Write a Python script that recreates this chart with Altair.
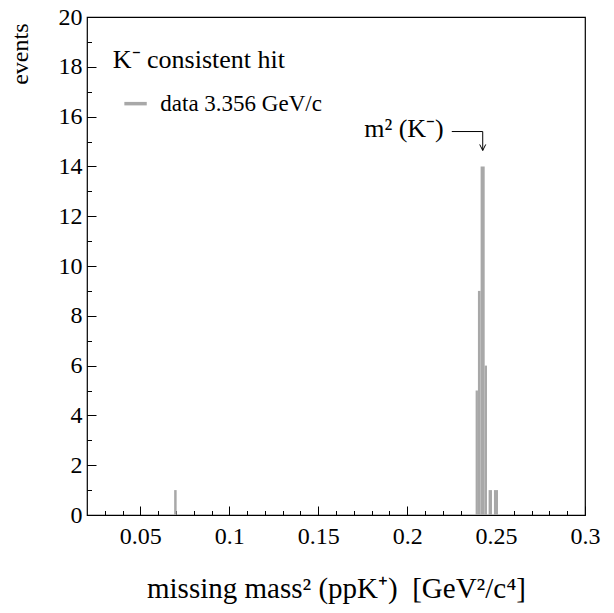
import altair as alt
import pandas as pd

# ---- data ----
bin_lo = [0.0690, 0.2385, 0.2398, 0.2413, 0.2436, 0.2458, 0.2488]
bin_hi = [0.0704, 0.2398, 0.2413, 0.2436, 0.2449, 0.2477, 0.2511]
counts = [1, 5, 9, 14, 6, 1, 1]

x_major = [0.05, 0.1, 0.15, 0.2, 0.25, 0.3]
x_minor = [0.03, 0.04, 0.05, 0.06, 0.07, 0.08, 0.09, 0.10, 0.11, 0.12, 0.13,
           0.14, 0.15, 0.16, 0.17, 0.18, 0.19, 0.20, 0.21, 0.22, 0.23, 0.24,
           0.25, 0.26, 0.27, 0.28, 0.29]
y_major = [0, 2, 4, 6, 8, 10, 12, 14, 16, 18, 20]
y_minor = [0, 1, 2, 3, 4, 5, 6, 7, 8, 9, 10, 11, 12, 13, 14, 15, 16, 17, 18, 19, 20]

x_dom = [0.02, 0.3]
y_dom = [0, 20]

# annotations (data coordinates)
title_txt = ["K\u207b consistent hit"]
title_x = [0.0345]
title_y = [18.28]
leg_x = [0.0410, 0.0536]
leg_y = [16.52, 16.52]
leg_txt = ["data 3.356 GeV/c"]
leg_tx = [0.0612]
peak_txt = ["m\u00b2 (K\u207b)"]
peak_tx = [0.2206]
peak_ty = [15.50]
hook_x = [0.2251, 0.2425, 0.2425]
hook_y = [15.40, 15.40, 14.64]

FONT = "Liberation Serif"
GRAY = "#a8a8a8"

df = pd.DataFrame({"lo": bin_lo, "hi": bin_hi, "n": counts})

xs = alt.Scale(domain=x_dom, nice=False, zero=False)
ys = alt.Scale(domain=y_dom, nice=False)

bars = alt.Chart(df).mark_rect(color=GRAY).encode(
    x=alt.X("lo:Q", scale=xs, axis=alt.Axis(
        values=x_major, format="~g", orient="bottom", offset=-9, tickSize=9,
        domain=False, labelPadding=9, labelFontSize=24, labelFont=FONT,
        labelColor="black", tickColor="black", tickWidth=1,
        title="missing mass\u00b2 (ppK\u207a)\u00a0 [GeV\u00b2/c\u2074]",
        titleFont=FONT, titleFontSize=29, titleFontWeight="normal",
        titleColor="black", titleX=249, titleY=91, titleBaseline="alphabetic",
        labelFlush=False)),
    x2="hi:Q",
    y=alt.Y("n:Q", scale=ys, axis=alt.Axis(
        values=y_major, format="d", orient="left", offset=-9, tickSize=9,
        domain=False, labelPadding=5, labelFontSize=24, labelFont=FONT,
        labelColor="black", tickColor="black", tickWidth=1,
        title="events", titleFont=FONT, titleFontSize=24,
        titleFontWeight="normal", titleColor="black", titleAngle=-90,
        titleX=-69, titleY=6, titleAlign="right", titleBaseline="alphabetic",
        labelFlush=False)),
    y2=alt.datum(0),
)

minor = alt.Chart(df).mark_point(opacity=0).encode(
    x=alt.X("lo:Q", scale=xs, axis=alt.Axis(
        values=x_minor, orient="bottom", offset=-4.5, tickSize=4.5,
        domain=False, labels=False, title=None, tickColor="black", tickWidth=1)),
    y=alt.Y("n:Q", scale=ys, axis=alt.Axis(
        values=y_minor, orient="left", offset=-4.5, tickSize=4.5,
        domain=False, labels=False, title=None, tickColor="black", tickWidth=1)),
)

t1 = alt.Chart(pd.DataFrame({"x": title_x, "y": title_y, "t": title_txt})).mark_text(
    align="left", baseline="middle", font=FONT, fontSize=26, color="black").encode(
    x=alt.X("x:Q", scale=xs, axis=None), y=alt.Y("y:Q", scale=ys, axis=None), text="t:N")

legline = alt.Chart(pd.DataFrame({"x": leg_x, "y": leg_y})).mark_line(
    color=GRAY, strokeWidth=3.5).encode(
    x=alt.X("x:Q", scale=xs, axis=None), y=alt.Y("y:Q", scale=ys, axis=None))

legtext = alt.Chart(pd.DataFrame({"x": leg_tx, "y": [leg_y[0]], "t": leg_txt})).mark_text(
    align="left", baseline="middle", font=FONT, fontSize=23, color="black").encode(
    x=alt.X("x:Q", scale=xs, axis=None), y=alt.Y("y:Q", scale=ys, axis=None), text="t:N")

ptext = alt.Chart(pd.DataFrame({"x": peak_tx, "y": peak_ty, "t": peak_txt})).mark_text(
    align="right", baseline="middle", font=FONT, fontSize=26, color="black").encode(
    x=alt.X("x:Q", scale=xs, axis=None), y=alt.Y("y:Q", scale=ys, axis=None), text="t:N")

hook = alt.Chart(pd.DataFrame({"x": hook_x, "y": hook_y, "o": [0, 1, 2]})).mark_line(
    color="black", strokeWidth=1).encode(
    x=alt.X("x:Q", scale=xs, axis=None), y=alt.Y("y:Q", scale=ys, axis=None), order="o:Q")

head = alt.Chart(pd.DataFrame({"x": [hook_x[-1]], "y": [hook_y[-1]]})).mark_point(
    shape="M-1,-2L0,0L1,-2", filled=False, color="black", strokeWidth=1, size=36,
    opacity=1).encode(
    x=alt.X("x:Q", scale=xs, axis=None), y=alt.Y("y:Q", scale=ys, axis=None))

chart = alt.layer(bars, minor, t1, legline, legtext, ptext, hook, head).resolve_axis(
    x="independent", y="independent"
).properties(
    width=498, height=498,
    autosize=alt.AutoSizeParams(type="none"),
    padding={"left": 79, "top": 9, "right": 21, "bottom": 90},
    background="white",
).configure_view(stroke="black", strokeWidth=1.2).configure_axis(
    grid=False, labelFont=FONT, labelFontSize=24, labelColor="black",
    titleFont=FONT, titleFontWeight="normal", titleColor="black")

chart.save("out.html", embed_options={"renderer": "svg", "actions": False})
